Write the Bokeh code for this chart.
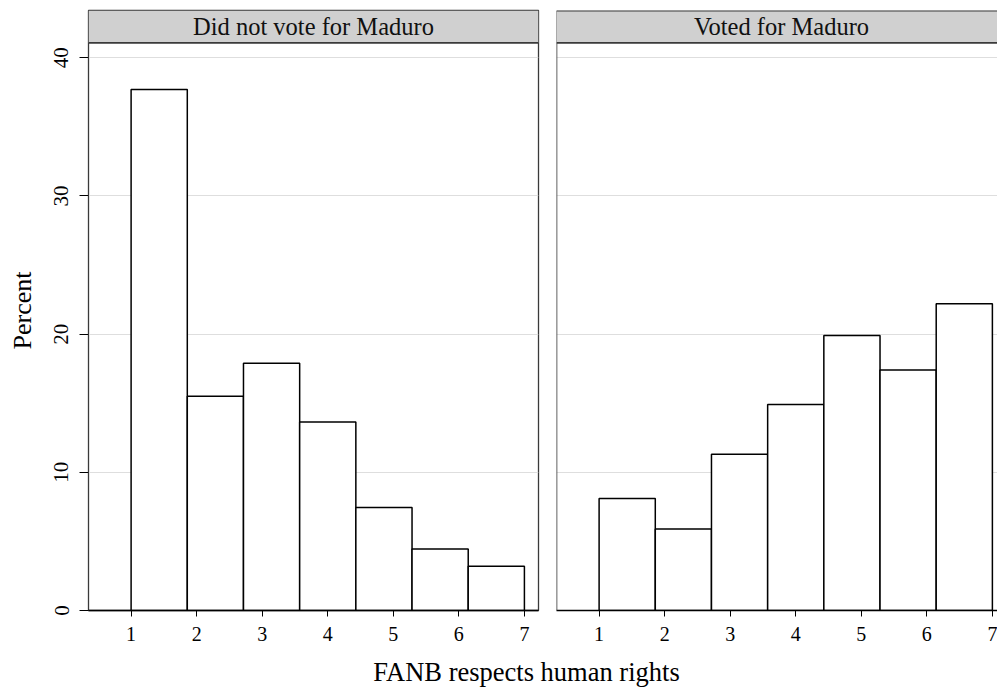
import numpy as np
from bokeh.plotting import figure
from bokeh.models import Range1d, FixedTicker, BoxAnnotation, Span, Label
from bokeh.layouts import row, column
from bokeh.embed import file_html
from bokeh.resources import INLINE

# ---- data ----
categories = [1, 2, 3, 4, 5, 6, 7]
panel_titles = ["Did not vote for Maduro", "Voted for Maduro"]
pct_did_not_vote = [37.7, 15.5, 17.9, 13.65, 7.45, 4.45, 3.2]
pct_voted = [8.1, 5.9, 11.3, 14.9, 19.9, 17.4, 22.2]
y_ticks = [0, 10, 20, 30, 40]
x_ticks = categories
x_title = "FANB respects human rights"
y_title = "Percent"

# ---- styling / layout ----
FONT = "Liberation Serif"
X0, X1_LEFT, X1_RIGHT = 0.35, 7.215, 7.078
PX_PER_X = 65.55
Y_TOP = 43.42
STRIP_BOTTOM = 41.08
FRAME_H = 600
STRIP_FILL = "#d0d0d0"
FRAME_COL = "#3a3a3a"

lo, hi = min(categories), max(categories)
edges = np.linspace(lo, hi, len(categories) + 1)


def make_panel(values, title, x_end, first):
    fw = int(round((x_end - X0) * PX_PER_X))
    p = figure(
        output_backend="svg", toolbar_location=None, title=None,
        x_range=Range1d(X0, x_end), y_range=Range1d(0, Y_TOP),
        frame_width=fw, frame_height=FRAME_H,
        min_border_left=88 if first else 9,
        min_border_right=9 if first else 0,
        min_border_top=10, min_border_bottom=38,
        background_fill_color="white", border_fill_color="white",
    )
    p.quad(left=edges[:-1], right=edges[1:], bottom=0, top=values,
           fill_color="white", line_color="black", line_width=1.5)

    # x axis
    xa = p.xaxis[0]
    xa.ticker = FixedTicker(ticks=x_ticks)
    xa.minor_tick_line_color = None
    xa.major_tick_in = 0
    xa.major_tick_out = 6
    xa.major_tick_line_color = "black"
    xa.axis_line_color = "black"
    xa.axis_line_width = 1.3
    xa.major_label_text_font = FONT
    xa.major_label_text_font_size = "20px"
    xa.major_label_text_color = "black"
    xa.major_label_standoff = 10
    p.xgrid.visible = False

    # y axis
    ya = p.yaxis[0]
    ya.ticker = FixedTicker(ticks=y_ticks)
    p.ygrid.ticker = FixedTicker(ticks=y_ticks)
    p.ygrid.grid_line_color = "#dedede"
    p.ygrid.grid_line_width = 1.2
    if first:
        ya.minor_tick_line_color = None
        ya.major_tick_in = 0
        ya.major_tick_out = 9
        ya.major_tick_line_color = "black"
        ya.axis_line_color = None
        ya.major_label_orientation = "vertical"
        ya.major_label_text_font = FONT
        ya.major_label_text_font_size = "21px"
        ya.major_label_text_color = "black"
        ya.major_label_standoff = 11
        ya.axis_label = y_title
        ya.axis_label_text_font = FONT
        ya.axis_label_text_font_style = "normal"
        ya.axis_label_text_font_size = "26px"
        ya.axis_label_text_color = "black"
        ya.axis_label_standoff = 15
        p.outline_line_color = FRAME_COL
        p.outline_line_width = 1.3
    else:
        ya.visible = False
        p.outline_line_color = None
        p.add_layout(Span(location=X0, dimension="height",
                          line_color=FRAME_COL, line_width=1.6))

    # strip header
    p.add_layout(BoxAnnotation(bottom=STRIP_BOTTOM, fill_color=STRIP_FILL,
                               fill_alpha=1.0, line_color=None))
    p.add_layout(Span(location=STRIP_BOTTOM, dimension="width",
                      line_color=FRAME_COL, line_width=1.6))
    if not first:
        p.add_layout(Span(location=Y_TOP, dimension="width",
                          line_color=FRAME_COL, line_width=2))
    p.add_layout(Label(x=(X0 + X1_LEFT) / 2, y=(STRIP_BOTTOM + Y_TOP) / 2,
                       text=title, text_align="center", text_baseline="middle",
                       text_font=FONT, text_font_size="24.5px",
                       text_color="#111111"))
    return p


left = make_panel(pct_did_not_vote, panel_titles[0], X1_LEFT, True)
right = make_panel(pct_voted, panel_titles[1], X1_RIGHT, False)

TOTAL_W = 997
TITLE_H = 39
title_fig = figure(output_backend="svg", toolbar_location=None, title=None,
                   width=TOTAL_W, height=TITLE_H,
                   x_range=Range1d(0, TOTAL_W), y_range=Range1d(0, TITLE_H),
                   x_axis_location=None, y_axis_location=None,
                   min_border=0, outline_line_color=None,
                   background_fill_color="white", border_fill_color="white")
title_fig.grid.visible = False
title_fig.add_layout(Label(x=526, y=16, text=x_title, text_align="center",
                           text_baseline="middle", text_font=FONT,
                           text_font_size="26.5px", text_color="black"))

layout = column(row(left, right), title_fig)

open("out.html", "w").write(file_html(layout, INLINE))
